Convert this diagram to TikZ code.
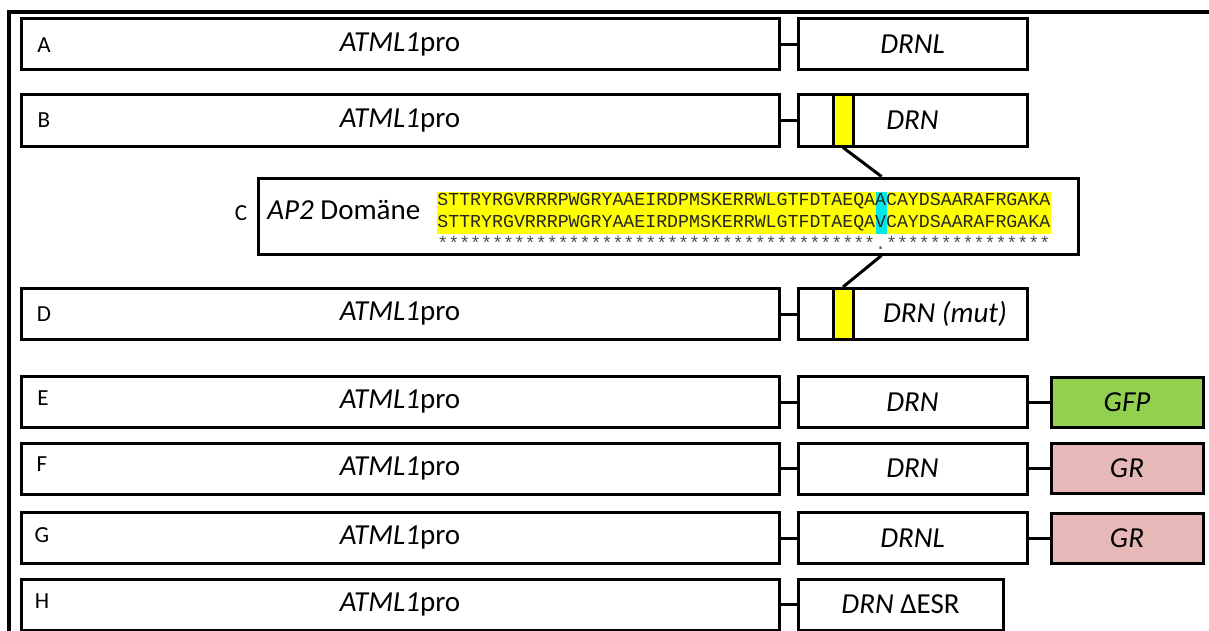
\documentclass[tikz,border=0pt]{standalone}
\usepackage{fontspec}
\setmainfont{Carlito}
\newfontfamily\seqfont{Liberation Mono}
\definecolor{gfpgreen}{RGB}{146, 208, 80}
\definecolor{grpink}{RGB}{230, 185, 184}
\definecolor{domyellow}{RGB}{255, 255, 0}
\definecolor{mutcyan}{RGB}{0, 232, 232}

\begin{document}
\begin{tikzpicture}[x=0.5pt, y=-0.5pt,
    every node/.style={font=\fontsize{14.5}{17}\selectfont},
    probox/.style={draw, line width=1.5pt, minimum width=379pt, minimum height=25.5pt, inner sep=0pt},
    genbox/.style={draw, line width=1.5pt, minimum width=114.5pt, minimum height=25.5pt, inner sep=0pt},
    tagbox/.style={draw, line width=1.5pt, minimum width=76pt, minimum height=25pt, inner sep=0pt},
    dombar/.style={draw, line width=1.5pt, fill=domyellow, minimum width=10pt, minimum height=25.5pt, inner sep=0pt},
    rowlabel/.style={font=\fontsize{11.5}{13}\selectfont},
    seqline/.style={anchor=base west, inner sep=0pt, text=black!85, font=\seqfont\fontsize{9.12}{9}\selectfont},
    link/.style={line width=1.5pt}]
        \useasboundingbox (0,0) rectangle (1209,631);

        % Frame
        \draw[line width=1.6pt] (1215,12) -- (9,12) -- (9,640);

        % Row A
        \node[probox] (a1) at (400,44.5) {\textit{ATML1}pro};
        \node[genbox] (a2) at (912.5,44.5) {\textit{DRNL}};
        \node[rowlabel] (la) at (44,45) {A};
        \draw[link] (a1.east) -- (a2.west);

        % Row B
        \node[probox] (b1) at (400,120.5) {\textit{ATML1}pro};
        \node[genbox] (b2) at (912.5,120.5) {\textit{DRN}};
        \node[dombar] (bbar) at (843,120.5) {};
        \node[rowlabel] (lb) at (44,120) {B};
        \draw[link] (b1.east) -- (b2.west);

        % Row C: AP2 domain
        \node[draw, line width=1.5pt, minimum width=410pt, minimum height=38pt] (cbox) at (668,216) {};
        \node[rowlabel] (lc) at (241,213) {C};
        \node[anchor=west, inner sep=0pt] (ap2) at (267,210) {\textit{AP2} Domäne};
        \fill[domyellow] (437,192) rectangle (1051,234);
        \node[fill=mutcyan, minimum width=5.5pt, minimum height=21pt, inner sep=0pt] (mutA) at (881.5,213) {};
        \node[seqline] (seq1) at (437,205) {STTRYRGVRRRPWGRYAAEIRDPMSKERRWLGTFDTAEQAACAYDSAARAFRGAKA};
        \node[seqline] (seq2) at (437,227) {STTRYRGVRRRPWGRYAAEIRDPMSKERRWLGTFDTAEQAVCAYDSAARAFRGAKA};
        \node[seqline, text=gray!60!black] (cons) at (437,249) {****************************************.***************};

        % Row D
        \node[probox] (d1) at (400,314) {\textit{ATML1}pro};
        \node[genbox] (d2) at (912.5,314) {};
        \node[dombar] (dbar) at (843,314) {};
        \node (dtxt) at (945,314) {\textit{DRN (mut)}};
        \node[rowlabel] (ld) at (44,314) {D};
        \draw[link] (d1.east) -- (d2.west);

        % Zoom lines
        \draw[link] (bbar.south) -- (cbox.north -| mutA);
        \draw[link] (cbox.south -| mutA) -- (dbar.north);

        % Row E
        \node[probox] (e1) at (400,402) {\textit{ATML1}pro};
        \node[genbox] (e2) at (912.5,402) {\textit{DRN}};
        \node[tagbox, fill=gfpgreen] (e3) at (1127,402) {\textit{GFP}};
        \node[rowlabel] (le) at (43,398) {E};
        \draw[link] (e1.east) -- (e2.west);
        \draw[link] (e2.east) -- (e3.west);

        % Row F
        \node[probox] (f1) at (400,468.5) {\textit{ATML1}pro};
        \node[genbox] (f2) at (912.5,468.5) {\textit{DRN}};
        \node[tagbox, fill=grpink] (f3) at (1127,468.5) {\textit{GR}};
        \node[rowlabel] (lf) at (42,464) {F};
        \draw[link] (f1.east) -- (f2.west);
        \draw[link] (f2.east) -- (f3.west);

        % Row G
        \node[probox] (g1) at (400,538) {\textit{ATML1}pro};
        \node[genbox] (g2) at (912.5,538) {\textit{DRNL}};
        \node[tagbox, fill=grpink] (g3) at (1127,538) {\textit{GR}};
        \node[rowlabel] (lg) at (42,535) {G};
        \draw[link] (g1.east) -- (g2.west);
        \draw[link] (g2.east) -- (g3.west);

        % Row H
        \node[probox] (h1) at (400,604.5) {\textit{ATML1}pro};
        \node[genbox, minimum width=102.5pt] (h2) at (900.5,604.5) {\textit{DRN} ΔESR};
        \node[rowlabel] (lh) at (42,601) {H};
        \draw[link] (h1.east) -- (h2.west);
\end{tikzpicture}
\end{document}
